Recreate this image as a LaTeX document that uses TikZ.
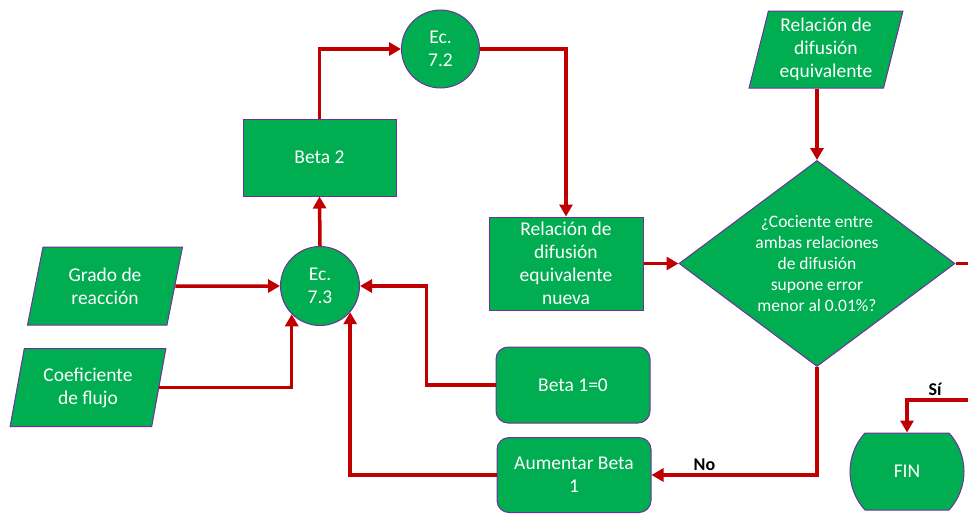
\documentclass[tikz,border=0pt]{standalone}
\usepackage{fontspec}
\setmainfont{Carlito}
\usepackage{tikz}
\usetikzlibrary{arrows.meta}
\usetikzlibrary{positioning}
\usetikzlibrary{shapes.geometric}
\usetikzlibrary{shapes.misc}
\definecolor{fgreen}{RGB}{0,173,80}
\definecolor{fborder}{RGB}{112,48,160}
\definecolor{fred}{RGB}{192,0,0}
\tikzstyle{every node}+=[inner sep=0pt]
\tikzstyle{base} = [draw=fborder, fill=fgreen, line width=1pt, text=white, align=center, font=\fontsize{19.5}{23}\selectfont]
\tikzstyle{io} = [base, trapezium, trapezium left angle=76, trapezium right angle=104, trapezium stretches=true, minimum width=156, minimum height=78]
\tikzstyle{calc} = [base, circle, minimum size=79]
\tikzstyle{block} = [base, rectangle, minimum width=153, minimum height=77]
\tikzstyle{roundblock} = [base, rectangle, rounded corners=12pt, minimum width=154, minimum height=76]
\tikzstyle{decision} = [base, diamond, minimum width=276, minimum height=206]
\tikzstyle{dectext} = [text=white, align=center, font=\fontsize{17.5}{21}\selectfont]
\tikzstyle{term} = [base, rounded rectangle, rounded rectangle arc length=85, minimum width=110, minimum height=77]
\tikzstyle{line} = [draw=fred, line width=3.5pt, -{Triangle[length=12pt,width=13pt]}]
\tikzstyle{wire} = [draw=fred, line width=3.5pt]
\tikzstyle{value} = [black, font=\bfseries\fontsize{18}{20}\selectfont]

\begin{document}
\begin{tikzpicture}[x=1pt, y=-1pt]
            \useasboundingbox (0,0) rectangle (968,514);
            % Place nodes
            \node [io] (grado) at (105,286) {Grado de\\reacción};
            \node [io] (coef) at (88,387.5) {Coeficiente\\de flujo};
            \node [calc] (ec73) at (320,286) {Ec.\\7.3};
            \node [block] (beta2) at (319.5,157.5) {Beta 2};
            \node [calc, minimum size=78] (ec72) at (440.5,49) {Ec.\\7.2};
            \node [block, minimum width=154, minimum height=93] (relnueva) at (566,263.5) {Relación de\\difusión\\equivalente\\nueva};
            \node [decision] (dec) at (817,263.5) {};
            \node [dectext] (q) at (dec) {¿Cociente entre\\ambas relaciones\\de difusión\\supone error\\menor al 0.01\%?};
            \node [io, minimum width=154, minimum height=77] (releq) at (826,49.5) {Relación de\\difusión\\equivalente};
            \node [roundblock] (beta1) at (573,385) {Beta 1=0};
            \node [roundblock, minimum height=75] (aum) at (574,475) {Aumentar Beta\\1};
            \node [term] (fin) at (907,471.5) {FIN};
            \coordinate (outR) at (968,263.5);
            \coordinate (inR) at (968,400);
            % Draw edges
            \path [line] (grado.east) -- (ec73.west);
            \path [line] (coef.east) -| (ec73.-135);
            \path [line] (beta1.west) -- ++(-69,0) |- (ec73.east);
            \path [line] (aum.west) -| (ec73.-41);
            \path [line] (ec73.north) -- (beta2.south);
            \path [line] (beta2.north) |- (ec72.west);
            \path [line] (ec72.east) -| (relnueva.north);
            \path [line] (relnueva.east) -- (dec.west);
            \path [line] (dec.north |- releq.south) -- (dec.north);
            \path [wire] (dec.east) -- (outR);
            \path [line] (dec.south) |- node [value, above, pos=0.84, yshift=3pt] (no) {No} (aum.east);
            \path [line] (inR) -| node [value, above, pos=0.27, yshift=3pt] (si) {Sí} (fin.north);
          \end{tikzpicture}
\end{document}
